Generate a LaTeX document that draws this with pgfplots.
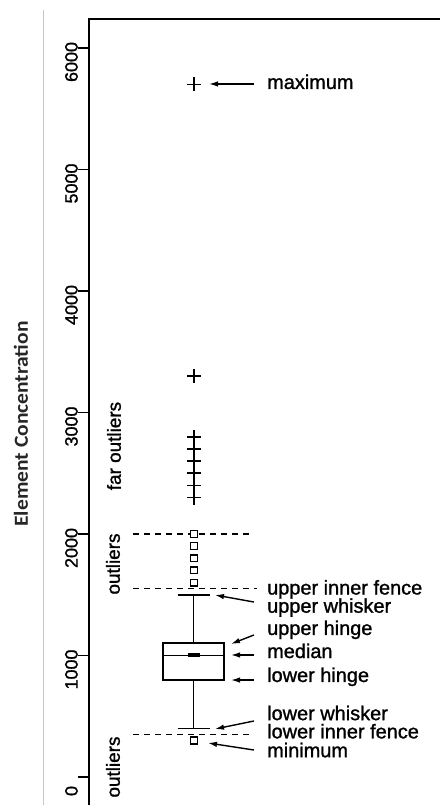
\documentclass[border=0pt]{standalone}
\usepackage{pgfplots}
\pgfplotsset{compat=1.18}
\usepgfplotslibrary{statistics}
\usetikzlibrary{arrows.meta}
\usepackage{fontspec}
\setmainfont{Liberation Sans}
\newfontfamily\heavy{Liberation Sans}[FakeBold=1.2]
\newfontfamily\calibri{Carlito}

\begin{document}
\begin{tikzpicture}
\useasboundingbox (0,0) rectangle (440bp,805bp);
\clip (0,0) rectangle (440bp,805bp);
\draw[black!22, line width=1bp] (43bp,0) -- (43bp,795bp);
\node[rotate=90, text=black!85, inner sep=0pt] at (21bp,381bp) {\scalebox{1.08}[1]{\calibri\bfseries\fontsize{20}{24}\selectfont Element Concentration}};
\begin{axis}[
  at={(89bp,786bp)}, anchor=north west,
  width=360bp, height=796bp, scale only axis,
  xmin=89, xmax=449, ymin=-312.8, ymax=6238.7,
  axis line style={line width=1.6bp},
  xtick=\empty,
  ytick={0,1000,...,6000},
  ytick pos=left,
  tick align=outside,
  major tick length=11bp,
  tick style={line width=1.4bp, black},
  yticklabel style={rotate=90, anchor=south, inner sep=0pt, xshift=-14bp, font=\heavy\fontsize{18}{20}\selectfont},
  /pgf/number format/assume math mode=true,
  /pgf/number format/set thousands separator={},
  clip=false,
]
% fences
\addplot[black, line width=1.2bp, dash pattern=on 6bp off 5bp] coordinates {(133,2000) (250,2000)};
\addplot[black, line width=1.2bp, dash pattern=on 6bp off 5bp] coordinates {(133,1550) (257,1550)};
\addplot[black, line width=1.2bp, dash pattern=on 6bp off 5bp] coordinates {(133,350) (250,350)};
% box
\addplot[black, line width=1.7bp, solid,
  boxplot/draw direction=y,
  boxplot/every whisker/.style={line width=1.7bp},
  boxplot/every median/.style={line width=1.7bp},
  boxplot/every box/.style={line width=1.7bp},
  boxplot prepared={lower whisker=400, lower quartile=800, median=1000,
    upper quartile=1100, upper whisker=1500, draw position=193.5,
    box extend=61, whisker extend=32}] coordinates {};
% mean marker
\addplot[black, line width=4bp] coordinates {(188,1000) (200,1000)};
% outliers
\addplot[only marks, mark=square*, mark size=3.4bp, line width=1.3bp, black, mark options={fill=white}]
  coordinates {(194,2000) (194,1900) (194,1800) (194,1700) (194,1600) (194,300)};
% far outliers and maximum
\addplot[only marks, mark=+, mark size=7bp, line width=1.5bp, black]
  coordinates {(194,5700) (194,3300) (194,2800) (194,2700) (194,2600) (194,2500) (194,2400) (194,2300)};
% rotated labels
\node[rotate=90, inner sep=0pt, font=\heavy\fontsize{19}{22}\selectfont] at (axis cs:114,2724) {far outliers};
\node[rotate=90, inner sep=0pt, font=\heavy\fontsize{19}{22}\selectfont] at (axis cs:113,1753) {outliers};
\node[rotate=90, inner sep=0pt, font=\heavy\fontsize{19}{22}\selectfont] at (axis cs:113,82) {outliers};
% annotations
\tikzset{lab/.style={anchor=base west, inner sep=0pt, font=\heavy\fontsize{20}{22}\selectfont},
  arr/.style={-{Latex[length=9bp,width=5.5bp]}, line width=1.4bp}}
\node[lab] at (axis cs:267,5663) {maximum};
\draw[arr] (axis cs:254,5704) -- (axis cs:209,5704);
\node[lab] at (axis cs:267,1502) {upper inner fence};
\node[lab] at (axis cs:267,1352) {upper whisker};
\draw[arr] (axis cs:254,1440) -- (axis cs:215,1498);
\node[lab] at (axis cs:267,1169) {upper hinge};
\draw[arr] (axis cs:254,1169) -- (axis cs:231,1095);
\node[lab] at (axis cs:267,979) {median};
\draw[arr] (axis cs:254,1004) -- (axis cs:231,1004);
\node[lab] at (axis cs:267,782) {lower hinge};
\draw[arr] (axis cs:254,798) -- (axis cs:231,798);
\node[lab] at (axis cs:267,468) {lower whisker};
\draw[arr] (axis cs:254,461) -- (axis cs:215,395);
\node[lab] at (axis cs:267,318) {lower inner fence};
\node[lab] at (axis cs:267,163) {minimum};
\draw[arr] (axis cs:254,222) -- (axis cs:208,280);
\end{axis}
\end{tikzpicture}
\end{document}
